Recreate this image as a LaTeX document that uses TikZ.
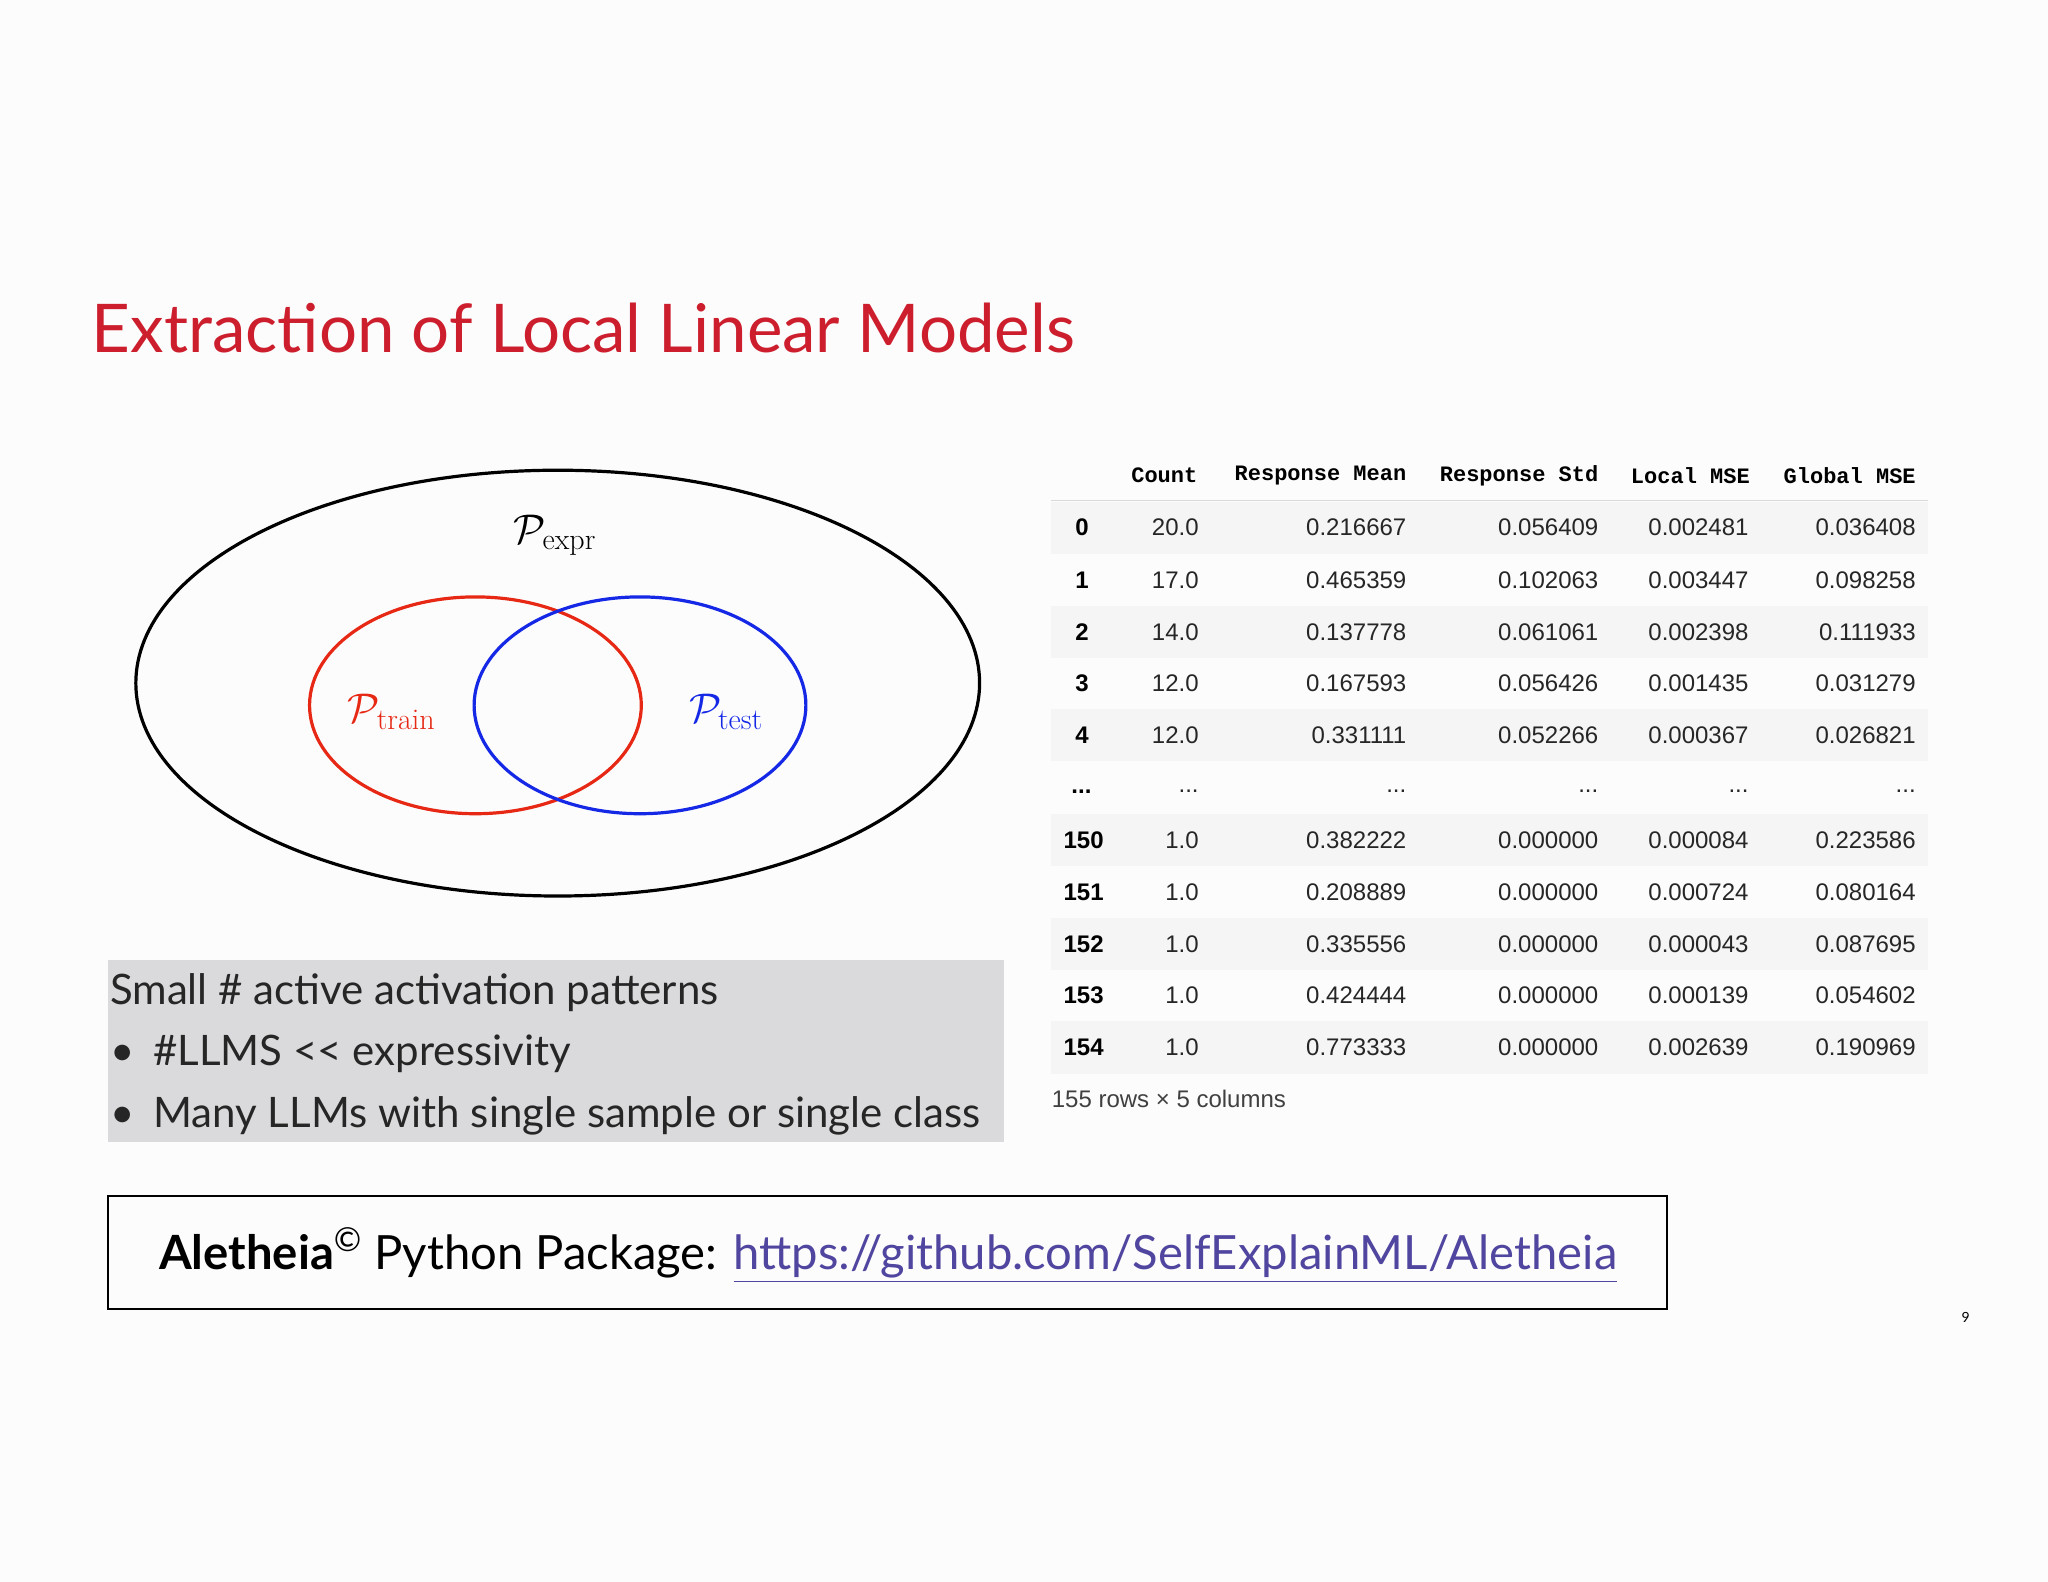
\documentclass[tikz,border=0pt]{standalone}
\usepackage{fontspec}
\setmainfont{Lato}
\newfontfamily\tabfont{Liberation Sans}
\newfontfamily\hdfont{Liberation Mono}
\newfontfamily\lmr{Latin Modern Roman}
\definecolor{titlered}{RGB}{204,30,45}
\definecolor{graybox}{RGB}{218,218,220}
\definecolor{stripe}{RGB}{245,245,245}
\definecolor{linkblue}{RGB}{80,70,160}
\definecolor{pblue}{RGB}{20,40,230}
\definecolor{pred}{RGB}{230,40,20}
\newcommand{\subtxt}[1]{\hbox{\lmr\fontsize{15}{17}\selectfont #1}}
\begin{document}
\begin{tikzpicture}[x=0.653pt,y=-0.653pt,
  cell/.style={anchor=east,font=\tabfont\fontsize{12}{14}\selectfont,text=black!85,inner sep=0pt},
  idx/.style={anchor=west,font=\tabfont\bfseries\fontsize{12}{14}\selectfont,inner sep=0pt},
  hd/.style={anchor=east,font=\hdfont\bfseries\fontsize{11}{13}\selectfont,inner sep=0pt},
  body/.style={anchor=west,font=\fontsize{21}{25}\selectfont,text=black!85,inner sep=0pt}]
\useasboundingbox (0,0) rectangle (1568,1211);
\fill[white!98!gray] (0,0) rectangle (1568,1211);
\node[anchor=base west,inner sep=0pt,text=titlered,font=\fontsize{33.6}{40}\selectfont] (title) at (70,270) {Extraction of Local Linear Models};
% venn
\draw[line width=1.6pt] (427,523) ellipse [x radius=323,y radius=163];
\draw[pred,line width=1.6pt] (364,540) ellipse [x radius=127,y radius=83];
\draw[pblue,line width=1.6pt] (490,540) ellipse [x radius=127,y radius=83];
\node (pe) at (425,410) {\fontsize{21}{24}\selectfont$\mathcal{P}_{\subtxt{expr}}$};
\node[text=pred] (pt) at (300,545) {\fontsize{21}{24}\selectfont$\mathcal{P}_{\subtxt{train}}$};
\node[text=pblue] (ps) at (556,545) {\fontsize{21}{24}\selectfont$\mathcal{P}_{\subtxt{test}}$};
% gray box
\fill[graybox] (83,735) rectangle (769,874);
\node[body] (l1) at (84,760) {Small \# active activation patterns};
\node[body] (l2) at (84,807) {\textbullet\hspace{0.45em}\#LLMS {<}{<} expressivity};
\node[body] (l3) at (84,854) {\textbullet\hspace{0.45em}Many LLMs with single sample or single class};
% table
\foreach \y in {404,484,563,643,723,802}{\fill[stripe] (805,\y-20) rectangle (1476,\y+20);}
\draw[black!15] (805,383) -- (1476,383);
\node[hd] (h1) at (917,364) {Count};
\node[hd] (h2) at (1077,364) {Response Mean};
\node[hd] (h3) at (1224,364) {Response Std};
\node[hd] (h4) at (1340,364) {Local MSE};
\node[hd] (h5) at (1467,364) {Global MSE};
\foreach \i/\y/\a/\b/\c/\d/\e in {
0/404/20.0/0.216667/0.056409/0.002481/0.036408,
1/444/17.0/0.465359/0.102063/0.003447/0.098258,
2/484/14.0/0.137778/0.061061/0.002398/0.111933,
3/523/12.0/0.167593/0.056426/0.001435/0.031279,
4/563/12.0/0.331111/0.052266/0.000367/0.026821,
150/643/1.0/0.382222/0.000000/0.000084/0.223586,
151/683/1.0/0.208889/0.000000/0.000724/0.080164,
152/723/1.0/0.335556/0.000000/0.000043/0.087695,
153/762/1.0/0.424444/0.000000/0.000139/0.054602,
154/802/1.0/0.773333/0.000000/0.002639/0.190969}{
  \ifnum\i<10 \node[idx] (r\i) at (823,\y) {\i};\else\node[idx] (r\i) at (814,\y) {\i};\fi
  \node[cell] (a\i) at (918,\y) {\a};
  \node[cell] (b\i) at (1077,\y) {\b};
  \node[cell] (c\i) at (1224,\y) {\c};
  \node[cell] (d\i) at (1339,\y) {\d};
  \node[cell] (e\i) at (1467,\y) {\e};
}
\node[idx] (rd) at (820,606) {...};
\foreach \x/\n in {918/da,1077/db,1224/dc,1339/dd,1467/de}{\node[cell] (\n) at (\x,606) {...};}
\node[anchor=west,inner sep=0pt,font=\tabfont\fontsize{12}{14}\selectfont,text=black!75] (foot) at (805,841) {155 rows × 5 columns};
% bottom box
\draw[line width=1pt] (83,916) rectangle (1276,1002);
\node[inner sep=0pt,font=\fontsize{23.6}{28}\selectfont] (pkg) at (680,961) {\textbf{Aletheia}\textsuperscript{\copyright} Python Package: \textcolor{linkblue}{\underline{https://github.com/SelfExplainML/Aletheia}}};
\node[inner sep=0pt,font=\fontsize{7}{8}\selectfont] (pg) at (1505,1009) {9};
\end{tikzpicture}
\end{document}
